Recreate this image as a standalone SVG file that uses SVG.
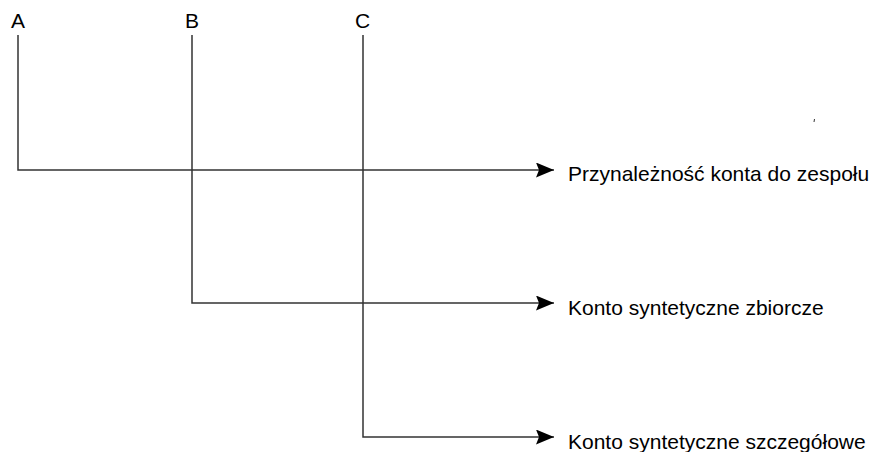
<svg xmlns="http://www.w3.org/2000/svg" width="875" height="452" viewBox="0 0 875 452">
<style>
text{font-family:"Liberation Sans",Arial,sans-serif;font-size:21px;fill:#000}
.c{fill:none;stroke:#333;stroke-width:1.5}
</style>
<defs>
<marker id="ah" markerWidth="20" markerHeight="16" refX="18" refY="7.5" orient="auto" markerUnits="userSpaceOnUse">
<path d="M0,0 L18,7.5 L0,15 L3,7.5 Z" fill="#000"/>
</marker>
</defs>
<rect width="875" height="452" fill="#fff"/>
<g id="connectors">
<path class="c" d="M18,35 V170 H554" marker-end="url(#ah)"/>
<path class="c" d="M192,35 V303 H554" marker-end="url(#ah)"/>
<path class="c" d="M363,35 V437 H554" marker-end="url(#ah)"/>
</g>
<g id="nodeA"><text x="11" y="28">A</text></g>
<g id="nodeB"><text x="185" y="28">B</text></g>
<g id="nodeC"><text x="355" y="28">C</text></g>
<g id="target1"><text x="568" y="181">Przynależność konta do zespołu</text></g>
<g id="target2"><text x="568" y="315">Konto syntetyczne zbiorcze</text></g>
<g id="target3"><text x="568" y="449">Konto syntetyczne szczegółowe</text></g>
<line x1="814.5" y1="119" x2="814" y2="122" stroke="#333" stroke-width="1"/>
</svg>
